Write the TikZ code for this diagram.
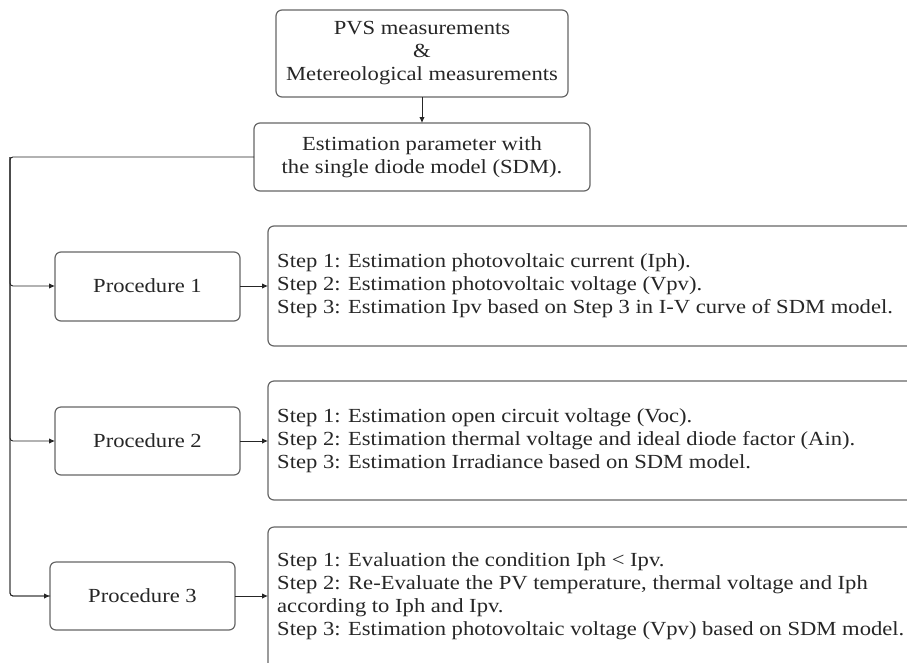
\documentclass[tikz,border=0pt]{standalone}
\usepackage{fontspec}
\setmainfont[FakeStretch=1.13]{Liberation Serif}
\usetikzlibrary{arrows.meta}
\begin{document}
\begin{tikzpicture}[x=1pt,y=-1pt,
  box/.style={draw=black!60,line width=1.2pt,rounded corners=6pt,inner sep=0pt},
  txt/.style={font=\fontsize{20}{23}\selectfont,text=black!85,align=center,inner sep=0pt},
  steptxt/.style={font=\fontsize{20}{23}\selectfont,text=black!85,align=left,anchor=west,inner sep=0pt},
  conn/.style={draw=black!85,line width=0.9pt,-{Latex[length=6pt,width=5.5pt]}}]
\useasboundingbox (0,0) rectangle (907,662);
\clip (0,0) rectangle (907,662);
% top boxes
\draw[box] (276,10) rectangle (568,97);
\node[txt] (top) at (422,53.5) {PVS measurements\\\&\\Metereological measurements};
\coordinate (topS) at (422,97);
\draw[box] (254,123) rectangle (590,191);
\node[txt] (est) at (422,157) {Estimation parameter with\\the single diode model (SDM).};
\coordinate (estN) at (422,123);
\coordinate (estW) at (254,157);
\draw[conn] (topS) -- (estN);
% procedures
\draw[box] (55,252) rectangle (240,321);
\node[txt] (p1) at (147.5,286) {Procedure 1};
\draw[box] (55,407) rectangle (240,475);
\node[txt] (p2) at (147.5,441) {Procedure 2};
\draw[box] (50,562) rectangle (235,630);
\node[txt] (p3) at (142.5,596) {Procedure 3};
\coordinate (p1W) at (55,286); \coordinate (p1E) at (240,286);
\coordinate (p2W) at (55,441); \coordinate (p2E) at (240,441);
\coordinate (p3W) at (50,596); \coordinate (p3E) at (235,596);
% step boxes
\draw[box] (268,226) rectangle (940,346);
\draw[box] (268,381) rectangle (940,500);
\draw[box] (268,527) rectangle (940,700);
\coordinate (s1W) at (268,286);
\coordinate (s2W) at (268,441);
\coordinate (s3W) at (268,596);
\node[steptxt] (s1) at (277,286) {Step 1: Estimation photovoltaic current (Iph).\\Step 2: Estimation photovoltaic voltage (Vpv).\\Step 3: Estimation Ipv based on Step 3 in I-V curve of SDM model.};
\node[steptxt] (s2) at (277,440.5) {Step 1: Estimation open circuit voltage (Voc).\\Step 2: Estimation thermal voltage and ideal diode factor (Ain).\\Step 3: Estimation Irradiance based on SDM model.};
\node[steptxt] (s3) at (277,596) {Step 1: Evaluation the condition Iph < Ipv.\\Step 2: Re-Evaluate the PV temperature, thermal voltage and Iph\\according to Iph and Ipv.\\Step 3: Estimation photovoltaic voltage (Vpv) based on SDM model.};
% connectors
\coordinate (bus) at (10,157);
\draw[draw=black!85,line width=0.9pt,rounded corners=3pt] (estW) -- (bus) |- (p3W);
\draw[conn,rounded corners=3pt] (bus) |- (p1W);
\draw[conn,rounded corners=3pt] (bus) |- (p2W);
\draw[conn,rounded corners=3pt] (bus) |- (p3W);
\draw[conn] (p1E) -- (s1W);
\draw[conn] (p2E) -- (s2W);
\draw[conn] (p3E) -- (s3W);
\end{tikzpicture}
\end{document}
